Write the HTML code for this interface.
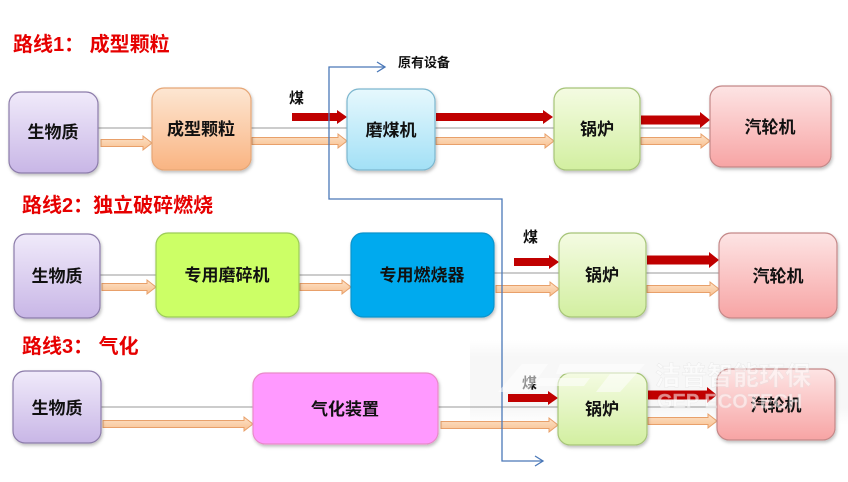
<!DOCTYPE html>
<html><head><meta charset="utf-8">
<style>
html,body{margin:0;padding:0;background:#fff;}
svg{display:block;}
text{font-family:"Liberation Sans","Noto Sans CJK SC","WenQuanYi Zen Hei",sans-serif;font-weight:bold;}
</style></head>
<body>
<svg width="848" height="482" viewBox="0 0 848 482" xmlns="http://www.w3.org/2000/svg">
<defs>
<linearGradient id="gPur" x1="0" y1="0" x2="0" y2="1"><stop offset="0" stop-color="#f0eafa"/><stop offset="1" stop-color="#c8b6e6"/></linearGradient>
<linearGradient id="gOra" x1="0" y1="0" x2="0" y2="1"><stop offset="0" stop-color="#fde6d2"/><stop offset="1" stop-color="#f9b482"/></linearGradient>
<linearGradient id="gBlu" x1="0" y1="0" x2="0" y2="1"><stop offset="0" stop-color="#e6f8fd"/><stop offset="1" stop-color="#a2e0f6"/></linearGradient>
<linearGradient id="gGrn" x1="0" y1="0" x2="0" y2="1"><stop offset="0" stop-color="#f4fbe2"/><stop offset="1" stop-color="#d2efa0"/></linearGradient>
<linearGradient id="gPnk" x1="0" y1="0" x2="0" y2="1"><stop offset="0" stop-color="#fde4e4"/><stop offset="1" stop-color="#f7a4a4"/></linearGradient>
<linearGradient id="gArr" x1="0" y1="0" x2="0" y2="1"><stop offset="0" stop-color="#fde2c8"/><stop offset="1" stop-color="#f8c090"/></linearGradient>
<linearGradient id="gBand" x1="0" y1="0" x2="0" y2="1"><stop offset="0" stop-color="#f7f7f7" stop-opacity="0"/><stop offset="0.2" stop-color="#f7f7f7"/><stop offset="0.8" stop-color="#f7f7f7"/><stop offset="1" stop-color="#f7f7f7" stop-opacity="0"/></linearGradient>
<filter id="sh" x="-10%" y="-10%" width="130%" height="130%"><feDropShadow dx="1" dy="2" stdDeviation="1.5" flood-color="#000" flood-opacity="0.25"/></filter>
</defs>

<!-- watermark band -->
<rect x="470" y="340" width="378" height="85" fill="url(#gBand)"/>

<!-- titles -->
<text x="13" y="51" font-size="20" fill="#e60000">路线1：  成型颗粒</text>
<text x="22" y="212" font-size="20" fill="#e60000">路线2：独立破碎燃烧</text>
<text x="22" y="353" font-size="20" fill="#e60000">路线3：  气化</text>

<!-- gray lines -->
<g stroke="#9a9a9a" stroke-width="1">
<line x1="98" y1="128" x2="152" y2="128"/><line x1="251" y1="128" x2="347" y2="128"/>
<line x1="435" y1="128" x2="554" y2="128"/><line x1="640" y1="128" x2="710" y2="128"/>
<line x1="100" y1="275" x2="156" y2="275"/><line x1="299" y1="275" x2="351" y2="275"/>
<line x1="494" y1="273" x2="559" y2="273"/><line x1="646" y1="273" x2="719" y2="273"/>
<line x1="101" y1="407" x2="253" y2="407"/><line x1="438" y1="407" x2="558" y2="407"/>
<line x1="647" y1="407" x2="717" y2="407"/>
</g>

<!-- orange arrows -->
<g fill="url(#gArr)" stroke="#e8a06a" stroke-width="1">
<path d="M101 139.5 H143 V136 L152 143 L143 150 V146.5 H101 Z"/>
<path d="M252 137.5 H338 V134 L347 141 L338 148 V144.5 H252 Z"/>
<path d="M436 137.5 H545 V134 L554 141 L545 148 V144.5 H436 Z"/>
<path d="M641 137.5 H701 V134 L710 141 L701 148 V144.5 H641 Z"/>
<path d="M102 283.5 H147 V280 L156 287 L147 294 V290.5 H102 Z"/>
<path d="M300 283.5 H342 V280 L351 287 L342 294 V290.5 H300 Z"/>
<path d="M496 285.5 H550 V282 L559 289 L550 296 V292.5 H496 Z"/>
<path d="M647 285.5 H710 V282 L719 289 L710 296 V292.5 H647 Z"/>
<path d="M103 420.5 H244 V417 L253 424 L244 431 V427.5 H103 Z"/>
<path d="M441 421.5 H549 V418 L558 425 L549 432 V428.5 H441 Z"/>
<path d="M648 417.5 H708 V414 L717 421 L708 428 V424.5 H648 Z"/>
</g>

<!-- red arrows -->
<g fill="#c00000">
<path d="M292 113 H337 V110 L347 117 L337 124 V121 H292 Z"/>
<path d="M436 113 H543 V110 L553 117 L543 124 V121 H436 Z"/>
<path d="M641 115.5 H700 V112 L710 120 L700 128 V124.5 H641 Z"/>
<path d="M514 258 H549 V255 L559 262 L549 269 V266 H514 Z"/>
<path d="M647 255.5 H709 V252 L719 260 L709 268 V264.5 H647 Z"/>
<path d="M508 394 H548 V391 L558 398 L548 405 V402 H508 Z"/>
<path d="M648 390.5 H707 V387 L717 395 L707 403 V399.5 H648 Z"/>
</g>

<!-- boxes -->
<g filter="url(#sh)">
<rect x="9" y="92" width="89" height="81" rx="12" fill="url(#gPur)" stroke="#8c7caa" stroke-width="1.2"/>
<rect x="152" y="88" width="99" height="82" rx="12" fill="url(#gOra)" stroke="#e6a676" stroke-width="1.2"/>
<rect x="347" y="89" width="88" height="81" rx="12" fill="url(#gBlu)" stroke="#7cb6ce" stroke-width="1.2"/>
<rect x="554" y="88" width="86" height="82" rx="12" fill="url(#gGrn)" stroke="#a6c478" stroke-width="1.2"/>
<rect x="710" y="86" width="121" height="81" rx="12" fill="url(#gPnk)" stroke="#c48888" stroke-width="1.2"/>

<rect x="14" y="234" width="86" height="84" rx="12" fill="url(#gPur)" stroke="#8c7caa" stroke-width="1.2"/>
<rect x="156" y="233" width="143" height="84" rx="12" fill="#ccff66" stroke="#9ccc58" stroke-width="1.2"/>
<rect x="351" y="233" width="143" height="84" rx="12" fill="#00aaee" stroke="#0a94cc" stroke-width="1.2"/>
<rect x="559" y="233" width="87" height="84" rx="12" fill="url(#gGrn)" stroke="#a6c478" stroke-width="1.2"/>
<rect x="719" y="233" width="118" height="85" rx="12" fill="url(#gPnk)" stroke="#c48888" stroke-width="1.2"/>

<rect x="13" y="371" width="88" height="72" rx="12" fill="url(#gPur)" stroke="#8c7caa" stroke-width="1.2"/>
<rect x="253" y="373" width="185" height="71" rx="12" fill="#ff99ff" stroke="#e88ac8" stroke-width="1.2"/>
<rect x="558" y="373" width="89" height="72" rx="12" fill="url(#gGrn)" stroke="#a6c478" stroke-width="1.2"/>
<rect x="717" y="369" width="118" height="71" rx="12" fill="url(#gPnk)" stroke="#c48888" stroke-width="1.2"/>
</g>

<!-- box labels -->
<g font-size="17" fill="#111" text-anchor="middle">
<text x="53" y="138">生物质</text>
<text x="201" y="135">成型颗粒</text>
<text x="391" y="136">磨煤机</text>
<text x="597" y="135">锅炉</text>
<text x="770" y="133">汽轮机</text>
<text x="57" y="282">生物质</text>
<text x="227" y="281">专用磨碎机</text>
<text x="422" y="281">专用燃烧器</text>
<text x="602" y="281">锅炉</text>
<text x="778" y="282">汽轮机</text>
<text x="57" y="414">生物质</text>
<text x="345" y="415">气化装置</text>
<text x="602" y="415">锅炉</text>
<text x="776" y="411">汽轮机</text>
</g>

<!-- coal labels -->
<g font-size="15" fill="#111">
<text x="289" y="103">煤</text>
<text x="523" y="242">煤</text>
<text x="522" y="388">煤</text>
</g>

<!-- blue bracket line -->
<g fill="none" stroke="#4a78b8" stroke-width="1.3">
<polyline points="385,67 329,67 329,199 502,199 502,461 543,461"/>
<polyline points="377,62 385,67 377,72"/>
<polyline points="535,456 543,461 535,466"/>
</g>
<text x="398" y="67" font-size="13" fill="#111">原有设备</text>

<!-- watermark -->
<g opacity="0.55">
<path d="M498 392 L522 364 L548 364 L528 392 Z" fill="#fff"/>
<path d="M540 378 L590 378 L584 386 L534 386 Z" fill="#fff"/>
<path d="M560 364 L645 364 L620 392 L596 392 L610 374 L556 374 Z" fill="#fff"/>
<text x="655" y="385" font-size="26" fill="#fff" stroke="#e0e0e0" stroke-width="0.5" font-weight="normal">洁普智能环保</text>
<text x="657" y="408" font-size="20" fill="#fff" stroke="#e0e0e0" stroke-width="0.4" font-weight="normal">GEP ECOTECH</text>
</g>
</svg>
</body></html>
